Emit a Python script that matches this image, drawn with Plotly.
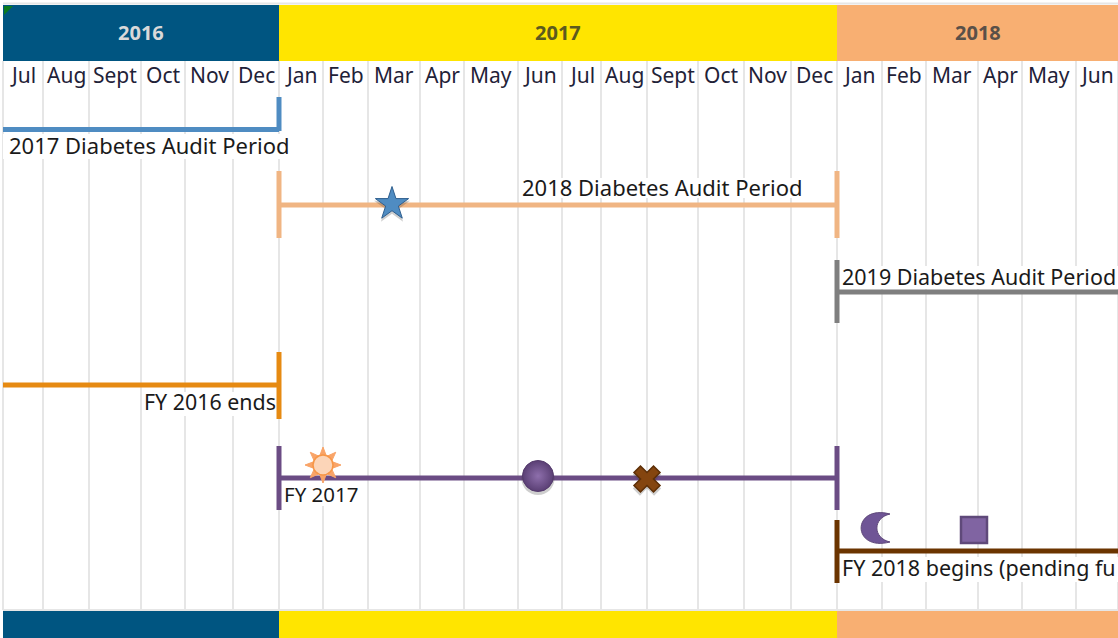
import math
import plotly.graph_objects as go

# ---- data (positions, axis units = pixels of the sheet) ----
months = ["Jul","Aug","Sept","Oct","Nov","Dec","Jan","Feb","Mar","Apr","May","Jun",
          "Jul","Aug","Sept","Oct","Nov","Dec","Jan","Feb","Mar","Apr","May","Jun"]
month_edges = [3,43,89,141,185,233,279,323,368,420,464,518,562,601,647,698,744,791,837,882,926,978,1022,1076,1118]
years = ["2016","2017","2018"]
year_edges = [3,279,837,1118]
year_colors = ["#005581","#FFE500","#F8AF72"]
year_text = ["#D9D9D9","#5C5A1E","#5A5048"]

periods = [
    dict(name="2017 Diabetes Audit Period", color="#4F8CC2", x0=3, x1=279, y=129.5, ticks=[(279,97,131)]),
    dict(name="2018 Diabetes Audit Period", color="#F0B583", x0=279, x1=837, y=205, ticks=[(279,171,238),(837,171,238)]),
    dict(name="2019 Diabetes Audit Period", color="#7F7F7F", x0=837, x1=1118, y=292, ticks=[(837,260,323)]),
    dict(name="FY 2016 ends", color="#E68A12", x0=3, x1=279, y=385, ticks=[(279,352,419)]),
    dict(name="FY 2017", color="#6B4C84", x0=279, x1=837, y=478, ticks=[(279,446,510),(837,446,510)]),
    dict(name="FY 2018 begins (pending fu", color="#6B3400", x0=837, x1=1118, y=551, ticks=[(837,520,583)]),
]
label_x = [8, 521, 841, 277, 283, 841]
label_y = [145, 187, 276, 401, 494, 567]
label_anchor = ["left","left","left","right","left","left"]
label_size = [22, 22, 21.5, 21.4, 20.5, 21.5]
# white cells behind the labels that interrupt the grid: left, right, top, bottom
cell_left = [3, 520, 840, 146, 283, 841]
cell_right = [291, 806, 1118, 277, 358, 1118]
cell_top = [134, 178, 266, 392, 483, 557]
cell_bottom = [159, 198, 289, 416, 506, 582]

star_pt = (392, 204)
ball_pt = (538, 476)
cross_pt = (647, 479)
square_pt = (974, 530)
sun_pt = (323, 465)
moon_pt = (876, 528)

FONT = "Noto Sans"
fig = go.Figure()

# year bands, top and bottom
for top, h in ((5, 56), (611, 27)):
    for i, yr in enumerate(years):
        fig.add_trace(go.Bar(x=[(year_edges[i]+year_edges[i+1])/2], width=[year_edges[i+1]-year_edges[i]],
                             base=[top], y=[h], marker=dict(color=year_colors[i], line=dict(width=0)),
                             showlegend=False, hoverinfo="skip"))

# month grid
gx, gy = [], []
for e in month_edges:
    gx += [e, e, None]; gy += [61, 610, None]
fig.add_trace(go.Scatter(x=gx, y=gy, mode="lines", line=dict(color="#E6E6E6", width=2),
                         showlegend=False, hoverinfo="skip"))
fig.add_trace(go.Scatter(x=[3,1118,None,3,1118], y=[3.5,3.5,None,610,610], mode="lines",
                         line=dict(color="#E6E6E6", width=2), showlegend=False, hoverinfo="skip"))

# white label cells above the grid, below the period lines
for l, r, t, b in zip(cell_left, cell_right, cell_top, cell_bottom):
    fig.add_trace(go.Scatter(x=[l, r, r, l, l], y=[t, t, b, b, t], mode="lines", fill="toself",
                             fillcolor="#FFFFFF", line=dict(width=0), showlegend=False, hoverinfo="skip"))

# period lines
for p in periods:
    fig.add_trace(go.Scatter(x=[p["x0"],p["x1"]], y=[p["y"],p["y"]], mode="lines",
                             line=dict(color=p["color"], width=5), name=p["name"], showlegend=False, hoverinfo="skip"))
    for (tx, y0, y1) in p["ticks"]:
        fig.add_trace(go.Scatter(x=[tx,tx], y=[y0,y1], mode="lines",
                                 line=dict(color=p["color"], width=5), showlegend=False, hoverinfo="skip"))

# corner flag
fig.add_trace(go.Scatter(x=[7], y=[9], mode="markers", marker=dict(symbol="triangle-nw", size=10, color="#0B7A1E"),
                         showlegend=False, hoverinfo="skip"))

def marker(pt, symbol, size, color, line=None, lw=0, grad=None, shadow=True):
    if shadow:
        fig.add_trace(go.Scatter(x=[pt[0]], y=[pt[1]+2.5], mode="markers",
                                 marker=dict(symbol=symbol, size=size+2, color="rgba(60,60,60,0.25)", line=dict(width=0)),
                                 showlegend=False, hoverinfo="skip"))
    m = dict(symbol=symbol, size=size, color=color, line=dict(color=line or color, width=lw))
    if grad:
        m["gradient"] = dict(type="radial", color=grad)
    fig.add_trace(go.Scatter(x=[pt[0]], y=[pt[1]], mode="markers", marker=m, showlegend=False, hoverinfo="skip"))

marker(star_pt, "star", 25, "#4F8CC2", "#2F5F8F", 1)
marker(ball_pt, "circle", 31, "#5A3F74", "#543A6C", 1, grad="#8E6FAC")
marker(cross_pt, "x", 23, "#84450F", "#5C2E06", 1.5)
marker(square_pt, "square", 26, "#8064A2", "#5F497A", 2.5, shadow=False)

# sun and moon glyphs, anchored on their data points
shapes = []
n = 8
path = ""
for k in range(n):
    a = k * 2 * math.pi / n + math.pi / 2
    tip = (18 * math.cos(a), 18 * math.sin(a))
    b1 = (9 * math.cos(a + 0.42), 9 * math.sin(a + 0.42))
    b2 = (9 * math.cos(a - 0.42), 9 * math.sin(a - 0.42))
    path += f"M {b1[0]:.2f},{b1[1]:.2f} L {tip[0]:.2f},{tip[1]:.2f} L {b2[0]:.2f},{b2[1]:.2f} Z "
shapes.append(dict(type="path", xsizemode="pixel", ysizemode="pixel", xanchor=sun_pt[0], yanchor=sun_pt[1],
                   xref="x", yref="y", path=path, fillcolor="#F9A468", line=dict(color="#F9A468", width=1)))
shapes.append(dict(type="circle", xsizemode="pixel", ysizemode="pixel", xanchor=sun_pt[0], yanchor=sun_pt[1],
                   xref="x", yref="y", x0=-10, x1=10, y0=-10, y1=10, fillcolor="#FCD5B8",
                   line=dict(color="#F79646", width=1.5)))
shapes.append(dict(type="path", xsizemode="pixel", ysizemode="pixel", xanchor=moon_pt[0], yanchor=moon_pt[1],
                   xref="x", yref="y", path="M 14,14 C -24.5,24 -24.5,-24 14,-14 C -3.5,-10 -3.5,10 14,14 Z",
                   fillcolor="#6F5596", line=dict(color="#5F497A", width=1)))

# texts
annotations = []
for i, yr in enumerate(years):
    annotations.append(dict(x=(year_edges[i]+year_edges[i+1])/2, y=32, text=f"<b>{yr}</b>", showarrow=False,
                            font=dict(family=FONT, size=20, color=year_text[i])))
for i, m in enumerate(months):
    annotations.append(dict(x=(month_edges[i]+month_edges[i+1])/2, y=75, text=m, showarrow=False,
                            font=dict(family=FONT, size=21, color="#1F2238")))
for p, lx, ly, la, ls in zip(periods, label_x, label_y, label_anchor, label_size):
    annotations.append(dict(x=lx, y=ly, text=p["name"], showarrow=False, xanchor=la,
                            borderpad=0, font=dict(family=FONT, size=ls, color="#1A1A1A")))

fig.update_layout(
    width=1118, height=638, margin=dict(l=0, r=0, t=0, b=0),
    paper_bgcolor="#FFFFFF", plot_bgcolor="#FFFFFF", barmode="overlay", bargap=0, showlegend=False,
    xaxis=dict(range=[0,1118], visible=False, fixedrange=True),
    yaxis=dict(range=[638,0], visible=False, fixedrange=True),
    shapes=shapes, annotations=annotations,
)
fig.write_html("out.html", config=dict(displayModeBar=False),
               post_script="document.body.style.margin='0';document.body.style.overflow='hidden';")
